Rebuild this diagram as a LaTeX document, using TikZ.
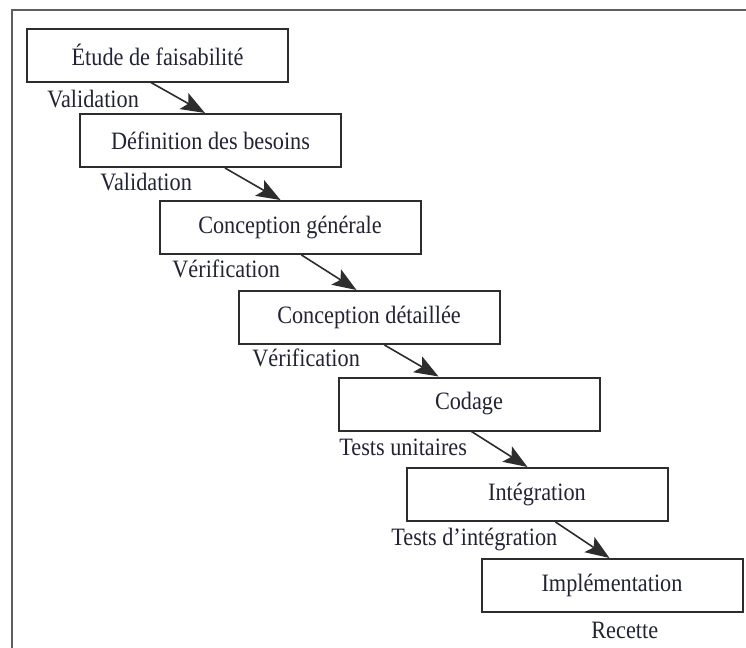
\documentclass[tikz,border=0pt]{standalone}
\usepackage{fontspec}
\setmainfont[FakeStretch=0.89]{Liberation Serif}
\usetikzlibrary{arrows.meta,calc}
\definecolor{txtc}{RGB}{35,35,55}
\definecolor{linec}{RGB}{45,45,45}
\definecolor{framec}{RGB}{95,95,95}
\begin{document}
\begin{tikzpicture}[x=0.5pt,y=-0.5pt,
  phase/.style={draw=linec,line width=1pt,minimum width=130.5pt,minimum height=26.5pt,inner sep=0pt,text=txtc,font=\fontsize{12.5}{14}\selectfont},
  lbl/.style={anchor=base west,inner sep=0pt,text=txtc,font=\fontsize{12.5}{14}\selectfont},
  flow/.style={draw=linec,line width=0.8pt,-{Stealth[length=12pt,width=9pt,inset=2.5pt]}}]
\useasboundingbox (0,0) rectangle (746,648);
\fill[white] (0,0) rectangle (746,648);
\begin{scope}
\clip (0,0) rectangle (746,648);
\draw[framec,line width=1.3pt] (12,10) rectangle (770,680);
\end{scope}
\node[phase] (b1) at (157.5,55) {Étude de faisabilité};
\node[phase] (b2) at (210.5,140.5) {Définition des besoins};
\node[phase] (b3) at (290,227.5) {Conception générale};
\node[phase] (b4) at (369,317.5) {Conception détaillée};
\node[phase] (b5) at (469,404) {Codage};
\node[phase] (b6) at (537,494.5) {Intégration};
\node[phase] (b7) at (612,585.5) {Implémentation};
\node[lbl] (l1) at (47,107) {Validation};
\node[lbl] (l2) at (100,190) {Validation};
\node[lbl] (l3) at (172,278) {Vérification};
\node[lbl] (l4) at (252,366) {Vérification};
\node[lbl] (l5) at (339,455) {Tests unitaires};
\node[lbl] (l6) at (391,545) {Tests d’intégration};
\node[lbl] (l7) at (591,638) {Recette};
\draw[flow] ($(b1.south west)+(125,0)$) -- ($(b2.north west)+(126,0)$);
\draw[flow] ($(b2.south west)+(146,0)$) -- ($(b3.north west)+(122,0)$);
\draw[flow] ($(b3.south west)+(143,0)$) -- ($(b4.north west)+(119,0)$);
\draw[flow] ($(b4.south west)+(147,0)$) -- ($(b5.north west)+(101,0)$);
\draw[flow] ($(b5.south west)+(134,0)$) -- ($(b6.north west)+(122,0)$);
\draw[flow] ($(b6.south west)+(150,0)$) -- ($(b7.north west)+(129,0)$);
\end{tikzpicture}
\end{document}
